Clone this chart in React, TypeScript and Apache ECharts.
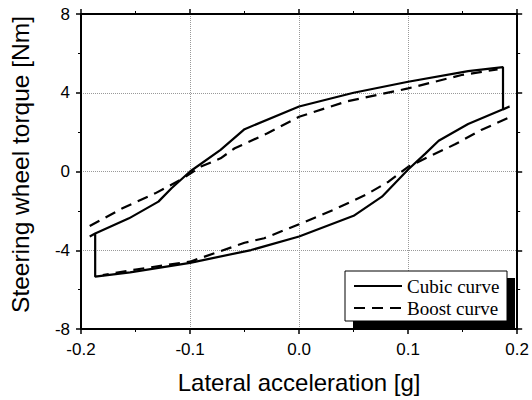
import React, { useEffect, useRef } from "react";
import * as echarts from "echarts";

// Cubic curve: closed hysteresis loop [lateral acc g, torque Nm]
const cubicX = [-0.192, -0.187, -0.156, -0.129, -0.117, -0.1, -0.072, -0.05, 0.0, 0.05, 0.1, 0.155, 0.187,
  0.187, 0.193, 0.155, 0.128, 0.116, 0.1, 0.076, 0.05, 0.0, -0.044, -0.1, -0.155, -0.187, -0.187, -0.192];
const cubicY = [-3.3, -3.15, -2.38, -1.53, -0.85, 0.0, 1.1, 2.15, 3.3, 4.0, 4.56, 5.1, 5.3,
  3.15, 3.3, 2.41, 1.56, 0.92, 0.1, -1.28, -2.25, -3.3, -3.99, -4.64, -5.12, -5.34, -3.15, -3.3];

// Boost curve: upper branch (increasing) and lower branch (decreasing)
const boostUpX = [-0.192, -0.162, -0.132, -0.108, -0.09, -0.072, -0.059, -0.029, 0.0, 0.043, 0.1, 0.149, 0.182];
const boostUpY = [-2.77, -1.87, -1.11, -0.4, 0.25, 0.67, 1.18, 1.94, 2.78, 3.55, 4.22, 4.9, 5.19];
const boostDownX = [0.191, 0.167, 0.143, 0.119, 0.1, 0.082, 0.061, 0.031, 0.0, -0.032, -0.05, -0.1, -0.15, -0.18];
const boostDownY = [2.7, 2.11, 1.38, 0.75, 0.24, -0.52, -1.19, -1.96, -2.68, -3.39, -3.62, -4.58, -4.98, -5.26];

const xTicks = { min: -0.2, max: 0.2, interval: 0.1 };
const yTicks = { min: -8, max: 8, interval: 4 };

const seriesNames = ["Cubic curve", "Boost curve"];

const zip = (xs: number[], ys: number[]) => xs.map((x, i) => [x, ys[i]]);

export default function App() {
  const ref = useRef<HTMLDivElement>(null);
  useEffect(() => {
    if (!ref.current) return;
    const chart = echarts.init(ref.current, undefined, { renderer: "svg" });
    const sans = "Liberation Sans, Arial, sans-serif";
    const serif = "Liberation Serif, Times New Roman, serif";
    const axisCommon = {
      axisLine: { show: true, onZero: false, lineStyle: { color: "#000", width: 2 } },
      axisTick: { show: true, inside: false, length: 5, lineStyle: { color: "#000", width: 1.5 } },
      minorTick: { show: true, splitNumber: 2, length: 3, lineStyle: { color: "#000", width: 1 } },
    };
    const xBase = { type: "value", min: xTicks.min, max: xTicks.max, interval: xTicks.interval };
    const yBase = { type: "value", min: yTicks.min, max: yTicks.max, interval: yTicks.interval };
    const grid = { type: "dotted", color: "#999", width: 1 };
    chart.setOption({
      animation: false,
      backgroundColor: "#fff",
      grid: { left: 78, top: 14, right: 12, bottom: 71, containLabel: false },
      xAxis: [
        {
          ...xBase,
          ...axisCommon,
          position: "bottom",
          name: "Lateral acceleration [g]",
          nameLocation: "middle",
          nameGap: 41,
          nameTextStyle: { fontFamily: sans, fontSize: 24, color: "#000" },
          axisLabel: {
            fontFamily: sans, fontSize: 17, color: "#000", margin: 12,
            formatter: (v: number) => v.toFixed(1),
          },
          splitLine: { show: true, lineStyle: grid },
        },
        {
          ...xBase,
          ...axisCommon,
          position: "top",
          axisLabel: { show: false },
          splitLine: { show: false },
        },
      ],
      yAxis: [
        {
          ...yBase,
          ...axisCommon,
          position: "left",
          name: "Steering wheel torque [Nm]",
          nameLocation: "middle",
          nameGap: 48,
          nameTextStyle: { fontFamily: sans, fontSize: 24.5, color: "#000", padding: [0, 0, 0, 14] },
          axisLabel: { fontFamily: sans, fontSize: 17, color: "#000", margin: 11 },
          splitLine: { show: true, lineStyle: grid },
        },
        {
          ...yBase,
          ...axisCommon,
          position: "right",
          axisLabel: { show: false },
          splitLine: { show: false },
        },
      ],
      graphic: [
        { type: "rect", z: 10, shape: { x: 353, y: 278, width: 162, height: 51 }, style: { fill: "#000" } },
        { type: "rect", z: 11, shape: { x: 345, y: 271, width: 162, height: 50 }, style: { fill: "#fff", stroke: "#000", lineWidth: 1 } },
      ],
      legend: {
        data: seriesNames,
        orient: "vertical",
        left: 353,
        top: 276,
        itemWidth: 48,
        itemHeight: 14,
        itemGap: 2,
        z: 20,
        padding: 0,
        itemStyle: { opacity: 0 },
        textStyle: { fontFamily: serif, fontSize: 19, color: "#000", lineHeight: 20 },
      },
      series: [
        {
          name: seriesNames[0],
          type: "line",
          data: zip(cubicX, cubicY),
          symbol: "none",
          lineStyle: { color: "#000", width: 2.2, type: "solid" },
          itemStyle: { color: "#000" },
          z: 3,
        },
        {
          name: seriesNames[1],
          type: "line",
          data: zip(boostUpX, boostUpY),
          symbol: "none",
          lineStyle: { color: "#000", width: 2.2, type: [11, 7] },
          itemStyle: { color: "#000" },
          z: 3,
        },
        {
          name: seriesNames[1],
          type: "line",
          data: zip(boostDownX, boostDownY),
          symbol: "none",
          lineStyle: { color: "#000", width: 2.2, type: [11, 7] },
          itemStyle: { color: "#000" },
          z: 3,
        },
      ],
    });
    return () => chart.dispose();
  }, []);
  return (
    <div
      ref={ref}
      style={{ position: "absolute", left: 0, top: 0, width: 532, height: 400 }}
    />
  );
}
